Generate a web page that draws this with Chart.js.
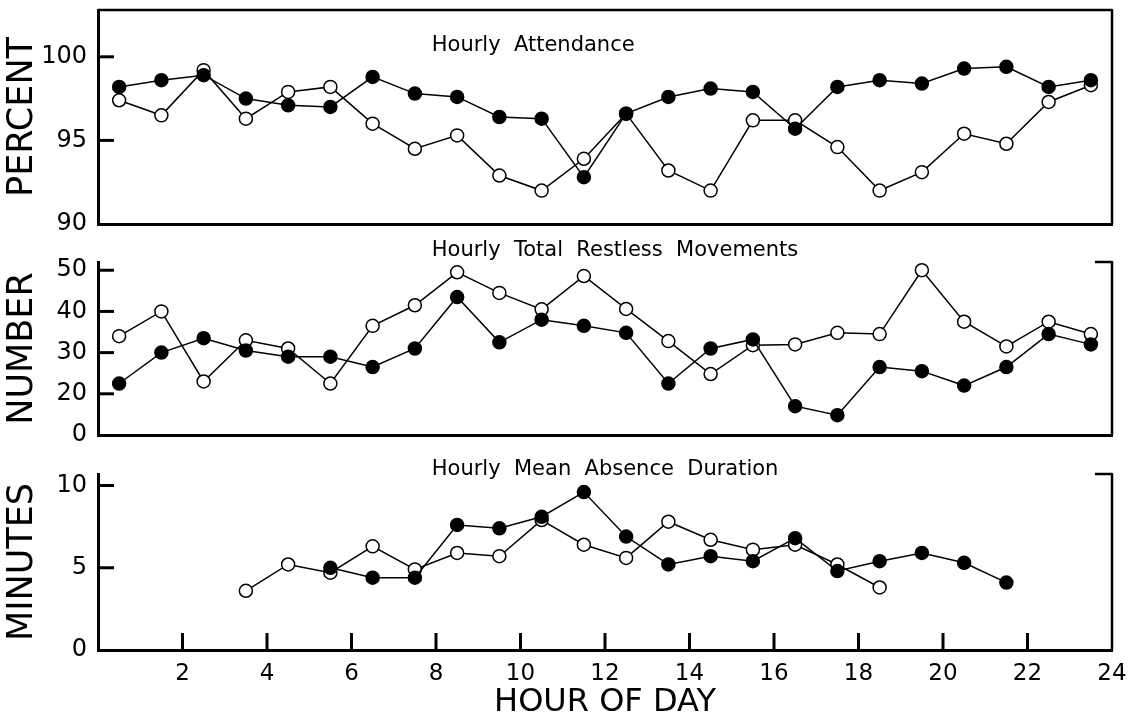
<!DOCTYPE html>
<html>
<head>
<meta charset="utf-8">
<script src="https://cdn.jsdelivr.net/npm/chart.js@4.4.0/dist/chart.umd.min.js"></script>
<style>
  html, body { margin: 0; padding: 0; background: #fff; }
  .panel { position: absolute; left: 0; width: 1139px; }
</style>
</head>
<body>
<div class="panel" style="top:0;height:240px"><canvas id="attendance"></canvas></div>
<div class="panel" style="top:240px;height:205px"><canvas id="restless"></canvas></div>
<div class="panel" style="top:445px;height:272px"><canvas id="absence"></canvas></div>
<script>
// hour of day (middle of each hour)
const hours = [0.5, 1.5, 2.5, 3.5, 4.5, 5.5, 6.5, 7.5, 8.5, 9.5, 10.5, 11.5,
               12.5, 13.5, 14.5, 15.5, 16.5, 17.5, 18.5, 19.5, 20.5, 21.5, 22.5, 23.5];

// Hourly Attendance (percent)
const attendanceFilled = [98.2, 98.6, 98.9, 97.5, 97.1, 97.0, 98.8, 97.8, 97.6, 96.4, 96.3, 92.8,
                          96.6, 97.6, 98.1, 97.9, 95.7, 98.2, 98.6, 98.4, 99.3, 99.4, 98.2, 98.6];
const attendanceOpen   = [97.4, 96.5, 99.2, 96.3, 97.9, 98.2, 96.0, 94.5, 95.3, 92.9, 92.0, 93.9,
                          96.6, 93.2, 92.0, 96.2, 96.2, 94.6, 92.0, 93.1, 95.4, 94.8, 97.3, 98.3];

// Hourly Total Restless Movements (number)
const restlessFilled = [22.5, 30, 33.5, 30.5, 29, 29, 26.5, 31, 43.5, 32.5, 38, 36.5,
                        34.8, 22.5, 31, 33.2, 17, 14.8, 26.5, 25.5, 22, 26.5, 34.5, 32];
const restlessOpen   = [34, 40, 23, 33, 31, 22.5, 36.5, 41.5, 49.5, 44.5, 40.5, 48.6,
                        40.6, 32.8, 24.8, 31.8, 32, 34.8, 34.5, 50, 37.5, 31.5, 37.5, 34.5];

// Hourly Mean Absence Duration (minutes)
const absenceFilled = [null, null, null, null, null, 5.0, 4.4, 4.4, 7.6, 7.4, 8.1, 9.6,
                       6.9, 5.2, 5.7, 5.4, 6.8, 4.8, 5.4, 5.9, 5.3, 4.1, null, null];
const absenceOpen   = [null, null, null, 3.6, 5.2, 4.7, 6.3, 4.9, 5.9, 5.7, 7.9, 6.4,
                       5.6, 7.8, 6.7, 6.1, 6.4, 5.2, 3.8, null, null, null, null, null];

// axis ticks
const hourTicks = [0, 2, 4, 6, 8, 10, 12, 14, 16, 18, 20, 22, 24];
const percentTicks = [90, 95, 100];
const numberTicks = [10, 20, 30, 40, 50];   // lowest tick is printed as "0" on the original axis
const minuteTicks = [0, 5, 10];

const FONT = '"DejaVu Sans", "Liberation Sans", sans-serif';

const framePlugin = {
  id: 'frame',
  afterDraw(chart, args, opts) {
    const {ctx, chartArea: a, scales: {x, y}} = chart;
    const line = (x1, y1, x2, y2) => { ctx.beginPath(); ctx.moveTo(x1, y1); ctx.lineTo(x2, y2); ctx.stroke(); };
    ctx.save();
    ctx.strokeStyle = '#000';
    // inward ticks on the left axis
    ctx.lineWidth = 3;
    y.ticks.forEach(t => {
      if (t.value === y.min) return;
      const py = y.getPixelForValue(t.value);
      line(a.left, py, a.left + 16, py);
    });
    // top / right edge
    ctx.lineWidth = 2.5;
    if (opts.box) {
      line(a.left, a.top, a.right, a.top);
    } else {
      line(a.right - 17, a.top, a.right, a.top);
    }
    line(a.right, a.top - 1, a.right, a.bottom);
    // inward ticks on the hour axis
    if (opts.hourTicks) {
      ctx.lineWidth = 3;
      x.ticks.forEach(t => {
        if (t.value <= x.min || t.value >= x.max) return;
        const px = x.getPixelForValue(t.value);
        line(px, a.bottom, px, a.bottom - 17);
      });
    }
    // panel title
    ctx.fillStyle = '#000';
    ctx.font = '21px ' + FONT;
    ctx.textAlign = 'left';
    ctx.textBaseline = 'middle';
    ctx.fillText(opts.title, x.getPixelForValue(7.9), a.top + opts.titleOffset);
    ctx.restore();
  }
};

function series(vals) {
  return hours.map((h, i) => ({x: h, y: vals[i]}));
}

function datasets(filled, open) {
  const base = {
    borderColor: '#000',
    borderWidth: 1.5,
    pointRadius: 6.5,
    pointBorderWidth: 1.5,
    pointBorderColor: '#000',
    spanGaps: false,
    tension: 0
  };
  return [
    Object.assign({}, base, {label: 'filled', data: series(filled), pointBackgroundColor: '#000'}),
    Object.assign({}, base, {label: 'open', data: series(open), pointBackgroundColor: '#fff'})
  ];
}

function makeChart(id, cfg) {
  const showHours = !!cfg.showHours;
  new Chart(document.getElementById(id), {
    type: 'line',
    data: {datasets: datasets(cfg.filled, cfg.open)},
    options: {
      responsive: true,
      maintainAspectRatio: false,
      animation: false,
      layout: {padding: {top: cfg.padTop, bottom: cfg.padBottom, left: 0, right: 27}},
      plugins: {
        legend: {display: false},
        tooltip: {enabled: false},
        frame: {box: cfg.box, title: cfg.title, titleOffset: cfg.titleOffset, hourTicks: showHours}
      },
      scales: {
        x: {
          type: 'linear',
          min: 0,
          max: 24,
          afterBuildTicks: s => { s.ticks = hourTicks.map(v => ({value: v})); },
          afterFit: s => {
            s.height = showHours ? 67 : 0;
            s.paddingLeft = 0;
            s.paddingRight = 0;
          },
          grid: {display: true, drawOnChartArea: false, drawTicks: false},
          border: {display: true, width: 3, color: '#000'},
          ticks: {
            display: showHours,
            padding: 10,
            color: '#000',
            font: {family: FONT, size: 23},
            maxRotation: 0,
            autoSkip: false,
            callback: v => (v === 0 ? '' : v)
          },
          title: {
            display: showHours,
            text: 'HOUR OF DAY',
            color: '#000',
            font: {family: FONT, size: 32, lineHeight: 0.9},
            padding: 0
          }
        },
        y: {
          type: 'linear',
          min: cfg.yMin,
          max: cfg.yMax,
          afterBuildTicks: s => { s.ticks = cfg.yTicks.map(v => ({value: v})); },
          afterFit: s => {
            s.width = 98;
            s.paddingTop = 0;
            s.paddingBottom = 0;
          },
          grid: {display: true, drawOnChartArea: false, drawTicks: false},
          border: {display: true, width: 3, color: '#000'},
          ticks: {
            padding: 11,
            color: '#000',
            font: {family: FONT, size: 24},
            callback: cfg.yLabel || (v => v)
          },
          title: {
            display: true,
            text: cfg.yTitle,
            color: '#000',
            font: {family: FONT, size: 35, lineHeight: 1.2},
            padding: {top: 2, bottom: 0}
          }
        }
      }
    },
    plugins: [framePlugin]
  });
}

makeChart('attendance', {
  filled: attendanceFilled, open: attendanceOpen,
  yMin: 90, yMax: 102.8, yTicks: percentTicks, yTitle: 'PERCENT',
  padTop: 10, padBottom: 16, box: true,
  title: 'Hourly  Attendance', titleOffset: 36
});

makeChart('restless', {
  filled: restlessFilled, open: restlessOpen,
  yMin: 10, yMax: 52, yTicks: numberTicks, yTitle: 'NUMBER',
  yLabel: v => (v === numberTicks[0] ? '0' : v),
  padTop: 22, padBottom: 10, box: false,
  title: 'Hourly  Total  Restless  Movements', titleOffset: -11
});

makeChart('absence', {
  filled: absenceFilled, open: absenceOpen,
  yMin: 0, yMax: 10.7, yTicks: minuteTicks, yTitle: 'MINUTES',
  padTop: 29, padBottom: 0, box: false, showHours: true,
  title: 'Hourly  Mean  Absence  Duration', titleOffset: -4
});
</script>
</body>
</html>
